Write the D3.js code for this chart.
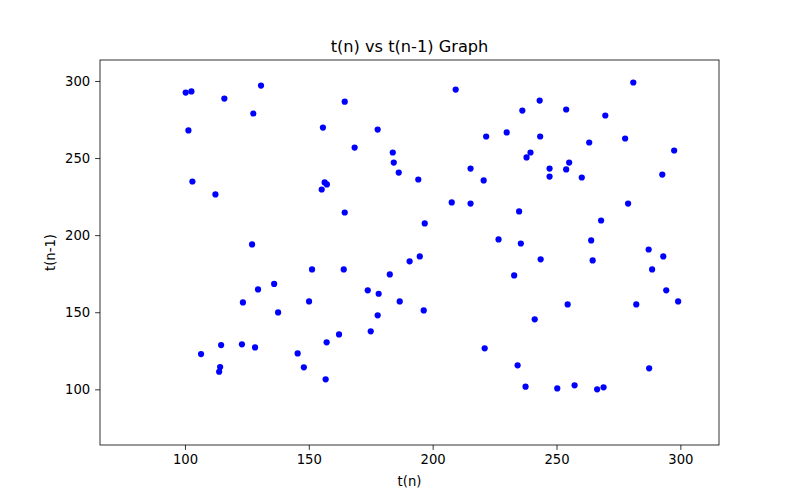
<!DOCTYPE html>
<html><head><meta charset="utf-8">
<script src="https://cdn.jsdelivr.net/npm/d3@7"></script>
<style>
body{margin:0;background:#fff;}
text{font-family:"DejaVu Sans",sans-serif;}
</style></head>
<body><svg id="c" width="799" height="500"></svg>
<script>
const tn = [100.3,102.6,115.9,130.7,127.6,101.4,103.0,112.3,127.1,164.5,155.7,177.8,168.5,183.9,184.3,186.3,194.2,156.4,157.3,155.2,164.5,196.8,209.3,243.2,236.2,253.9,221.6,229.9,243.4,239.5,237.9,247.2,247.2,253.9,255.1,260.2,215.3,220.6,207.7,215.3,234.9,226.6,235.6,281.0,269.7,263.2,277.7,297.5,292.7,278.9,268.0,264.0,287.2,293.1,129.5,123.4,114.6,123.0,128.3,106.5,114.2,113.8,136.0,137.6,151.3,164.1,150.1,173.8,178.2,182.7,190.7,194.8,186.7,196.4,177.8,175.0,162.2,157.2,145.5,148.0,156.8,243.6,232.9,254.5,241.2,221.0,234.3,237.5,250.3,257.3,264.6,288.6,294.3,299.1,282.2,287.4,266.4,269.0];
const tn1 = [292.5,293.2,288.6,297.0,278.9,267.9,234.8,226.4,194.0,286.6,269.8,268.5,256.8,253.6,247.1,240.6,236.1,234.2,232.9,229.6,214.7,207.6,294.4,287.3,280.8,281.5,264.0,266.6,264.0,253.6,250.4,243.2,238.0,242.6,247.1,237.4,243.2,235.5,221.2,220.5,215.4,197.2,194.6,299.0,277.6,260.1,262.7,254.9,239.3,220.5,209.5,196.6,190.7,186.2,164.8,156.4,128.7,129.2,127.2,122.9,114.5,111.4,168.4,149.9,177.8,177.8,157.0,164.2,162.0,174.5,183.0,186.2,157.0,151.2,148.0,137.6,135.6,130.5,123.3,114.3,106.5,184.3,173.9,155.1,145.4,126.6,115.6,101.7,100.6,102.6,183.6,177.8,164.2,157.0,155.1,113.6,100.0,101.3];
const xTicks = [100,150,200,250,300];
const yTicks = [100,150,200,250,300];
const xDomain = [65.7,315.6];
const yDomain = [63.9,313.6];

const L=100,R=719,T=60,B=445;
const svg=d3.select("#c");
const x=d3.scaleLinear().domain(xDomain).range([L,R]);
const y=d3.scaleLinear().domain(yDomain).range([B,T]);

svg.append("g").selectAll("circle").data(tn.map((v,i)=>[v,tn1[i]])).join("circle")
  .attr("cx",d=>x(d[0])).attr("cy",d=>y(d[1])).attr("r",3.1).attr("fill","#0000ff");

const xa=svg.append("g").attr("transform",`translate(0,${B})`)
  .call(d3.axisBottom(x).tickValues(xTicks).tickSize(4.9).tickPadding(4.9).tickFormat(d3.format("d")));
const ya=svg.append("g").attr("transform",`translate(${L},0)`)
  .call(d3.axisLeft(y).tickValues(yTicks).tickSize(4.9).tickPadding(4.9).tickFormat(d3.format("d")));
[xa,ya].forEach(a=>{a.select(".domain").remove();a.selectAll("line").attr("stroke","#000").attr("stroke-width",0.8);
  a.selectAll("text").attr("font-size",13.2).attr("fill","#000").style("font-family",null);});

svg.append("rect").attr("x",L).attr("y",T).attr("width",R-L).attr("height",B-T)
  .attr("fill","none").attr("stroke","#000").attr("stroke-width",0.8);

svg.append("text").attr("x",(L+R)/2).attr("y",51.7).attr("text-anchor","middle")
  .attr("font-size",16.2).text("t(n) vs t(n-1) Graph");
svg.append("text").attr("x",(L+R)/2).attr("y",486).attr("text-anchor","middle")
  .attr("font-size",13.2).text("t(n)");
svg.append("text").attr("transform",`translate(55,${(T+B)/2}) rotate(-90)`).attr("text-anchor","middle")
  .attr("font-size",13.2).text("t(n-1)");
</script></body></html>
